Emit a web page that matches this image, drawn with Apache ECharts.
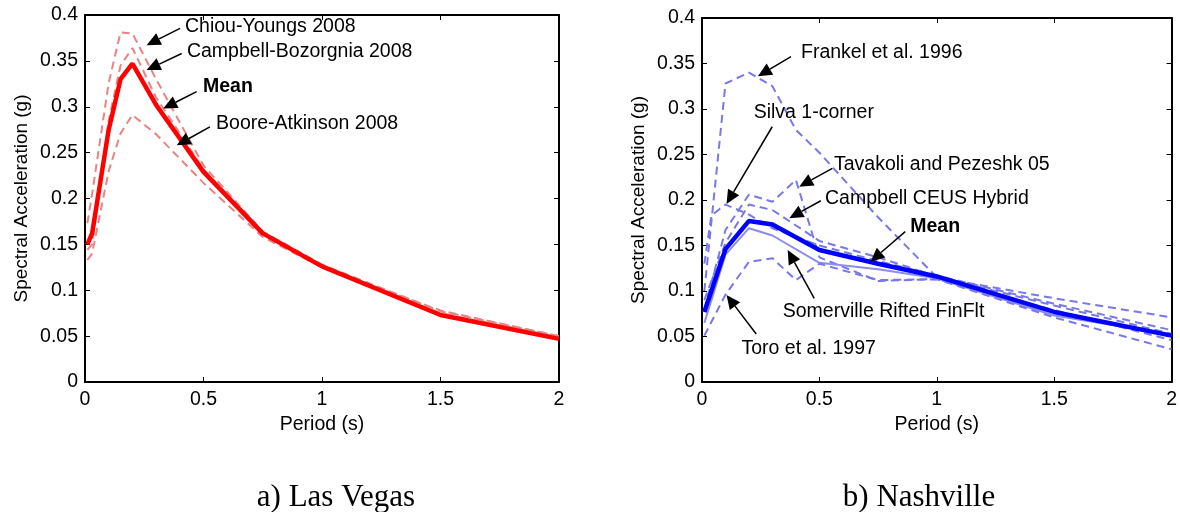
<!DOCTYPE html>
<html>
<head>
<meta charset="UTF-8">
<title>Spectral Acceleration - Las Vegas / Nashville</title>
<script src="https://cdn.jsdelivr.net/npm/echarts@6/dist/echarts.min.js"></script>
<style>
    html, body { margin: 0; padding: 0; background: #fff; }
    #main { width: 1180px; height: 512px; }
</style>
</head>
<body>
<div id="main"></div>
<script>
    // a) Las Vegas - NGA models
    var lvPeriods = [0.01, 0.03, 0.1, 0.15, 0.2, 0.3, 0.5, 0.75, 1, 1.5, 2];
    var lvMean    = [0.150, 0.162, 0.275, 0.330, 0.347, 0.302, 0.229, 0.162, 0.126, 0.073, 0.047];
    var lvChiou   = [0.173, 0.205, 0.326, 0.381, 0.380, 0.330, 0.236, 0.164, 0.128, 0.077, 0.050];
    var lvCampbell= [0.144, 0.150, 0.285, 0.345, 0.364, 0.310, 0.232, 0.163, 0.126, 0.075, 0.049];
    var lvBoore   = [0.133, 0.140, 0.230, 0.271, 0.291, 0.270, 0.217, 0.158, 0.125, 0.078, 0.050];

    // b) Nashville - CEUS models
    var nvFrankelT = [0.01, 0.1, 0.2, 0.3, 0.4, 0.5, 0.75, 1, 1.5, 2];
    var nvFrankel  = [0.100, 0.328, 0.340, 0.325, 0.277, 0.252, 0.181, 0.115, 0.092, 0.071];
    var nvSilvaT   = [0.01, 0.04, 0.1, 0.2, 0.3, 0.5, 0.75, 1, 1.5, 2];
    var nvSilva    = [0.130, 0.183, 0.195, 0.184, 0.169, 0.150, 0.133, 0.117, 0.086, 0.057];
    var nvTavT     = [0.01, 0.1, 0.2, 0.3, 0.4, 0.5, 0.75, 1, 1.5, 2];
    var nvTav      = [0.080, 0.167, 0.206, 0.198, 0.222, 0.137, 0.111, 0.113, 0.079, 0.046];
    var nvCampT    = [0.01, 0.1, 0.2, 0.3, 0.5, 0.75, 1, 1.5, 2];
    var nvCamp     = [0.090, 0.153, 0.195, 0.189, 0.155, 0.137, 0.116, 0.084, 0.053];
    var nvSomT     = [0.01, 0.1, 0.2, 0.3, 0.5, 0.75, 1, 1.5, 2];
    var nvSom      = [0.065, 0.140, 0.169, 0.161, 0.131, 0.124, 0.114, 0.073, 0.052];
    var nvToroT    = [0.01, 0.1, 0.2, 0.3, 0.4, 0.5, 0.75, 1, 1.5, 2];
    var nvToro     = [0.051, 0.096, 0.132, 0.136, 0.112, 0.130, 0.112, 0.113, 0.071, 0.036];
    var nvMeanT    = [0.01, 0.1, 0.2, 0.3, 0.5, 0.75, 1, 1.5, 2];
    var nvMean     = [0.077, 0.146, 0.177, 0.173, 0.145, 0.130, 0.116, 0.077, 0.051];

    // arrow labels: text anchor, arrow tail, arrow tip (data coords)
    var lvNotes = [
        { text: 'Chiou-Youngs 2008', at: [0.422, 0.387], from: [0.401, 0.3855], to: [0.260, 0.367] },
        { text: 'Campbell-Bozorgnia 2008', at: [0.430, 0.360], from: [0.408, 0.358], to: [0.260, 0.340] },
        { text: 'Mean', bold: true, at: [0.498, 0.3215], from: [0.471, 0.3164], to: [0.330, 0.298] },
        { text: 'Boore-Atkinson 2008', at: [0.553, 0.282], from: [0.527, 0.278], to: [0.387, 0.258] }
    ];
    var nvNotes = [
        { text: 'Frankel et al. 1996', at: [0.4216, 0.3615], from: [0.379, 0.3575], to: [0.238, 0.336] },
        { text: 'Silva 1-corner', at: [0.220, 0.2956], from: [0.299, 0.2805], to: [0.1044, 0.1956] },
        { text: 'Tavakoli and Pezeshk 05', at: [0.562, 0.2385], from: [0.555, 0.2348], to: [0.414, 0.2146] },
        { text: 'Campbell CEUS Hybrid', at: [0.524, 0.201], from: [0.506, 0.1992], to: [0.372, 0.180] },
        { text: 'Mean', bold: true, at: [0.887, 0.1707], from: [0.8655, 0.1652], to: [0.7175, 0.1322] },
        { text: 'Somerville Rifted FinFlt', at: [0.344, 0.0773], from: [0.478, 0.092], to: [0.365, 0.145] },
        { text: 'Toro et al. 1997', at: [0.168, 0.037], from: [0.231, 0.0527], to: [0.1044, 0.0956] }
    ];

    var FONT = 'Liberation Sans, Arial, sans-serif';
    var RED_DASH = '#e88484';
    var BLUE_DASH = '#7878e8';

    function pairs(xs, ys) {
        var out = [];
        for (var i = 0; i < xs.length; i++) out.push([xs[i], ys[i]]);
        return out;
    }

    function makeLine(name, idx, data, color, width, dash) {
        return {
            name: name,
            type: 'line',
            xAxisIndex: idx * 2,
            yAxisIndex: idx * 2,
            data: data,
            showSymbol: false,
            symbol: 'none',
            silent: true,
            animation: false,
            lineStyle: { color: color, width: width, type: dash || 'solid' }
        };
    }

    function xAxes(gi) {
        return [{
            type: 'value', gridIndex: gi, min: 0, max: 2, interval: 0.5,
            name: 'Period (s)', nameLocation: 'middle', nameGap: 32,
            nameTextStyle: { fontFamily: FONT, fontSize: 19.5, color: '#000' },
            axisLine: { onZero: false, lineStyle: { color: '#000', width: 2 } },
            axisTick: { inside: true, length: 5, lineStyle: { color: '#000', width: 1 } },
            axisLabel: { fontFamily: FONT, fontSize: 19.5, color: '#000', margin: 8 },
            splitLine: { show: false }
        }, {
            type: 'value', gridIndex: gi, min: 0, max: 2, interval: 0.5, position: 'top',
            axisLine: { onZero: false, lineStyle: { color: '#000', width: 2 } },
            axisTick: { inside: true, length: 5, lineStyle: { color: '#000', width: 1 } },
            axisLabel: { show: false },
            splitLine: { show: false }
        }];
    }

    function yAxes(gi) {
        return [{
            type: 'value', gridIndex: gi, min: 0, max: 0.4, interval: 0.05,
            name: 'Spectral Acceleration (g)', nameLocation: 'middle', nameGap: 54, nameRotate: 90,
            nameTextStyle: { fontFamily: FONT, fontSize: 19, color: '#000' },
            axisLine: { onZero: false, lineStyle: { color: '#000', width: 2 } },
            axisTick: { inside: true, length: 5, lineStyle: { color: '#000', width: 1 } },
            axisLabel: { fontFamily: FONT, fontSize: 19.5, color: '#000', margin: 7 },
            splitLine: { show: false }
        }, {
            type: 'value', gridIndex: gi, min: 0, max: 0.4, interval: 0.05, position: 'right',
            axisLine: { onZero: false, lineStyle: { color: '#000', width: 2 } },
            axisTick: { inside: true, length: 5, lineStyle: { color: '#000', width: 1 } },
            axisLabel: { show: false },
            splitLine: { show: false }
        }];
    }

    var chartDom = document.getElementById('main');
    var myChart = echarts.init(chartDom, null, { renderer: 'canvas' });

    var dash = [8, 5];
    var option = {
        animation: false,
        backgroundColor: '#fff',
        grid: [
            { left: 85, top: 15, width: 474, height: 367 },
            { left: 702, top: 18, width: 473, height: 364 }
        ],
        xAxis: xAxes(0).concat(xAxes(1)),
        yAxis: yAxes(0).concat(yAxes(1)),
        series: [
            makeLine('Chiou-Youngs 2008', 0, pairs(lvPeriods, lvChiou), RED_DASH, 2, dash),
            makeLine('Campbell-Bozorgnia 2008', 0, pairs(lvPeriods, lvCampbell), RED_DASH, 2, dash),
            makeLine('Boore-Atkinson 2008', 0, pairs(lvPeriods, lvBoore), RED_DASH, 2, dash),
            makeLine('Mean', 0, pairs(lvPeriods, lvMean), '#ff0000', 4.5),

            makeLine('Frankel et al. 1996', 1, pairs(nvFrankelT, nvFrankel), BLUE_DASH, 2, dash),
            makeLine('Silva 1-corner', 1, pairs(nvSilvaT, nvSilva), BLUE_DASH, 2, dash),
            makeLine('Tavakoli and Pezeshk 05', 1, pairs(nvTavT, nvTav), BLUE_DASH, 2, dash),
            makeLine('Campbell CEUS Hybrid', 1, pairs(nvCampT, nvCamp), BLUE_DASH, 2, dash),
            makeLine('Somerville Rifted FinFlt', 1, pairs(nvSomT, nvSom), '#8c8cec', 2),
            makeLine('Toro et al. 1997', 1, pairs(nvToroT, nvToro), BLUE_DASH, 2, dash),
            makeLine('Mean', 1, pairs(nvMeanT, nvMean), '#0000ff', 4.5)
        ]
    };
    myChart.setOption(option);

    // arrows + labels, placed through the axes
    function arrow(p0, p1) {
        var dx = p1[0] - p0[0], dy = p1[1] - p0[1];
        var len = Math.sqrt(dx * dx + dy * dy);
        var ux = dx / len, uy = dy / len;
        var hl = 14, hw = 6.5;
        var bx = p1[0] - ux * hl, by = p1[1] - uy * hl;
        return [{
            type: 'line', z: 50,
            shape: { x1: p0[0], y1: p0[1], x2: bx, y2: by },
            style: { stroke: '#000', lineWidth: 1.5 }
        }, {
            type: 'polygon', z: 50,
            shape: { points: [p1, [bx - uy * hw, by + ux * hw], [bx + uy * hw, by - ux * hw]] },
            style: { fill: '#000' }
        }];
    }

    var graphics = [];
    [lvNotes, nvNotes].forEach(function (notes, gi) {
        notes.forEach(function (n) {
            var t = myChart.convertToPixel({ gridIndex: gi }, n.at);
            var a = myChart.convertToPixel({ gridIndex: gi }, n.from);
            var b = myChart.convertToPixel({ gridIndex: gi }, n.to);
            graphics = graphics.concat(arrow(a, b));
            graphics.push({
                type: 'text', z: 50, x: t[0], y: t[1],
                style: {
                    text: n.text, fill: '#000', font: (n.bold ? 'bold ' : '') + '19.5px ' + FONT,
                    textAlign: 'left', textVerticalAlign: 'middle'
                }
            });
        });
    });

    // panel captions
    [['a) Las Vegas', 336], ['b) Nashville', 919]].forEach(function (c) {
        graphics.push({
            type: 'text', x: c[1], y: 498,
            style: {
                text: c[0], fill: '#000', font: '31px Liberation Serif, Times New Roman, serif',
                textAlign: 'center', textVerticalAlign: 'middle'
            }
        });
    });

    myChart.setOption({ graphic: graphics });
</script>
</body>
</html>
